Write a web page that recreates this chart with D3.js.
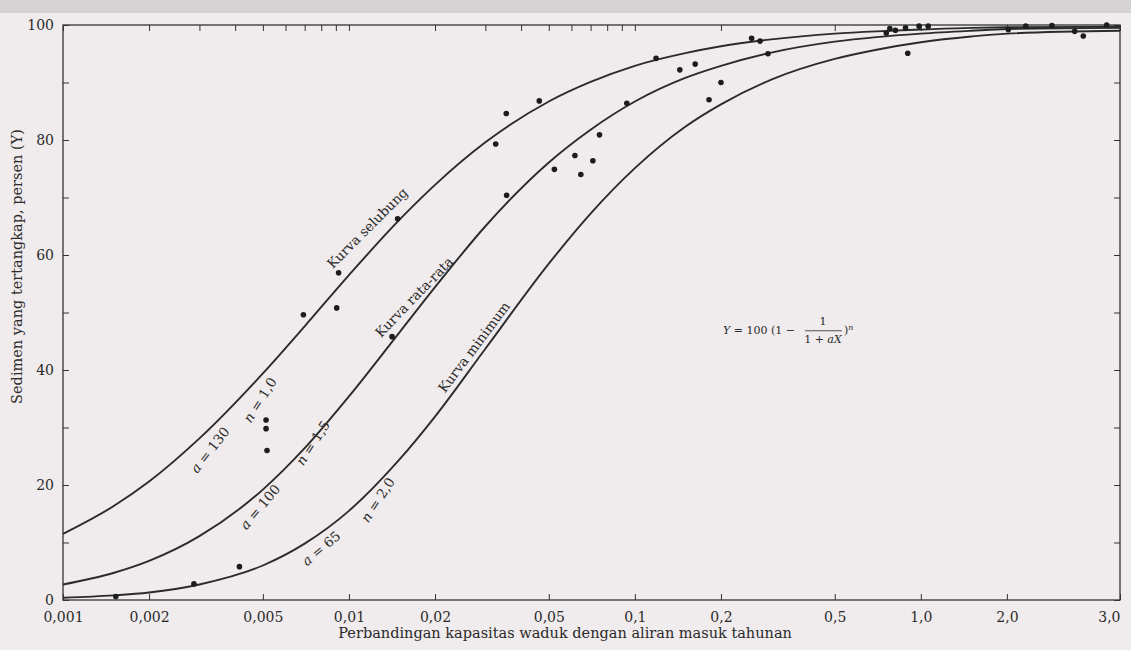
<!DOCTYPE html>
<html>
<head>
<meta charset="utf-8">
<script src="https://cdn.jsdelivr.net/npm/d3@7"></script>
<style>
  html, body { margin: 0; padding: 0; background: #f0ebec; }
  svg { display: block; }
  text { font-family: "DejaVu Serif", "Liberation Serif", serif; fill: #2a2a2a; }
</style>
</head>
<body>
<script>
// sumbu X (skala log) dan sumbu Y
const xTicks = [0.001, 0.002, 0.005, 0.01, 0.02, 0.05, 0.1, 0.2, 0.5, 1.0, 2.0, 3.0];
const xTickLabels = ["0,001", "0,002", "0,005", "0,01", "0,02", "0,05", "0,1", "0,2", "0,5", "1,0", "2,0", "3,0"];
const xMinorTicks = [0.003, 0.004, 0.006, 0.007, 0.008, 0.009, 0.03, 0.04, 0.06, 0.07, 0.08, 0.09];
const yTicks = [0, 10, 20, 30, 40, 50, 60, 70, 80, 90, 100];
const yTickLabels = ["0", "", "20", "", "40", "", "60", "", "80", "", "100"];

// titik-titik kurva yang dibaca dari gambar
const curveX = [0.001, 0.0015, 0.002, 0.003, 0.005, 0.007, 0.01, 0.015, 0.02, 0.03, 0.05, 0.07, 0.1, 0.15, 0.2, 0.3, 0.5, 0.7, 1.0, 1.5, 2.0, 3.0];
const kurvaSelubung = [11.5, 16.3, 20.6, 28.1, 39.4, 47.6, 56.5, 66.1, 72.2, 79.6, 86.7, 90.1, 92.9, 95.1, 96.3, 97.5, 98.5, 98.9, 99.2, 99.5, 99.6, 99.7];
const kurvaRataRata = [2.7, 4.7, 6.8, 11.1, 19.2, 26.4, 35.4, 46.5, 54.4, 65.0, 76.1, 81.8, 86.7, 90.8, 92.9, 95.2, 97.1, 97.9, 98.5, 99.0, 99.3, 99.5];
const kurvaMinimum = [0.4, 0.8, 1.3, 2.7, 6.0, 9.8, 15.5, 24.4, 31.9, 43.7, 58.5, 67.2, 75.1, 82.3, 86.2, 90.5, 94.1, 95.7, 97.0, 98.0, 98.5, 99.0];

// data pengamatan
const obsX = [0.00153, 0.00287, 0.00414, 0.00513, 0.00513, 0.00517, 0.00693, 0.00906, 0.0092, 0.01415, 0.0148,
    0.0326, 0.0355, 0.0356, 0.0463, 0.0523, 0.0617, 0.0647, 0.0713, 0.0752, 0.0937, 0.1186, 0.1436, 0.1625,
    0.1817, 0.200, 0.256, 0.274, 0.292, 0.757, 0.779, 0.815, 0.884, 0.900, 0.986, 1.061, 2.01, 2.14, 2.35, 2.55, 2.63, 2.86];
const obsY = [0.6, 2.8, 5.8, 31.3, 29.8, 26.0, 49.6, 50.8, 56.9, 45.8, 66.3,
    79.3, 84.6, 70.4, 86.8, 74.9, 77.3, 74.0, 76.4, 80.9, 86.4, 94.2, 92.2, 93.2,
    87.0, 90.0, 97.7, 97.2, 95.0, 98.6, 99.4, 99.1, 99.5, 95.1, 99.8, 99.8, 99.2, 99.8, 99.9, 98.9, 98.1, 100];

const curveLabels = [
    { text: "Kurva selubung", x: 0.0116, y: 64.7, angle: -45 },
    { text: "Kurva rata-rata", x: 0.0169, y: 52.7, angle: -46 },
    { text: "Kurva minimum", x: 0.0274, y: 44.0, angle: -53 }
];
const paramLabels = [
    { name: "n", value: "1,0", x: 0.00489, y: 34.8, angle: -58 },
    { name: "a", value: "130", x: 0.00327, y: 26.1, angle: -52 },
    { name: "n", value: "1,5", x: 0.00748, y: 27.3, angle: -57 },
    { name: "a", value: "100", x: 0.00489, y: 16.2, angle: -50 },
    { name: "n", value: "2,0", x: 0.01262, y: 17.4, angle: -57 },
    { name: "a", value: "65", x: 0.0080, y: 9.0, angle: -40 }
];

const width = 1131;
const height = 650;
const margin = { top: 25, right: 11, bottom: 50, left: 63 };

function draw() {
    const chartWidth = width - margin.left - margin.right;
    const chartHeight = height - margin.top - margin.bottom;

    const svg = d3.select('body').append('svg')
        .attr('width', width)
        .attr('height', height);

    svg.append('rect').attr('width', width).attr('height', 13).attr('fill', '#d5d3d4');

    const g = svg.append('g').attr('transform', `translate(${margin.left}, ${margin.top})`);

    // skala X: log, bagian terakhir (2,0 - 3,0) direntangkan seperti pada gambar
    const xScale = d3.scaleLog()
        .domain([0.001, 2.0, 3.0])
        .range([0, chartWidth * 0.893, chartWidth]);
    const yScale = d3.scaleLinear().domain([0, 100]).range([chartHeight, 0]);

    // sumbu
    const axisStyle = (sel) => {
        sel.select('.domain').remove();
        sel.selectAll('line').attr('stroke', '#333').attr('stroke-width', 1);
        sel.selectAll('text').style('font-size', '14px').attr('fill', '#2a2a2a');
    };
    g.append('g')
        .attr('transform', `translate(0, ${chartHeight})`)
        .call(d3.axisBottom(xScale).tickValues(xTicks).tickFormat((d, i) => xTickLabels[i]).tickSize(-6).tickPadding(12))
        .call(axisStyle)
        .call((sel) => sel.selectAll('.tick:last-of-type text').attr('text-anchor', 'end'));
    g.append('g')
        .call(d3.axisTop(xScale).tickValues(xTicks.concat(xMinorTicks)).tickFormat('').tickSize(-6))
        .call(axisStyle);
    g.append('g')
        .call(d3.axisLeft(yScale).tickValues(yTicks).tickFormat((d, i) => yTickLabels[i]).tickSize(-6).tickPadding(9))
        .call(axisStyle);
    g.append('g')
        .attr('transform', `translate(${chartWidth}, 0)`)
        .call(d3.axisRight(yScale).tickValues(yTicks).tickFormat('').tickSize(-6))
        .call(axisStyle);

    g.append('rect')
        .attr('width', chartWidth)
        .attr('height', chartHeight)
        .attr('fill', 'none')
        .attr('stroke', '#333')
        .attr('stroke-width', 1.3);

    // kurva
    const line = d3.line()
        .x((d) => xScale(d[0]))
        .y((d) => yScale(d[1]))
        .curve(d3.curveMonotoneX);
    [kurvaSelubung, kurvaRataRata, kurvaMinimum].forEach((ys) => {
        g.append('path')
            .datum(curveX.map((x, i) => [x, ys[i]]))
            .attr('fill', 'none')
            .attr('stroke', '#2b2b2b')
            .attr('stroke-width', 1.9)
            .attr('d', line);
    });

    // titik pengamatan
    g.selectAll('circle.obs')
        .data(obsX.map((x, i) => [x, obsY[i]]))
        .enter()
        .append('circle')
        .attr('class', 'obs')
        .attr('cx', (d) => xScale(d[0]))
        .attr('cy', (d) => yScale(d[1]))
        .attr('r', 2.8)
        .attr('fill', '#1c1c1c');

    // label kurva
    curveLabels.forEach((l) => {
        g.append('text')
            .attr('transform', `translate(${xScale(l.x)}, ${yScale(l.y)}) rotate(${l.angle})`)
            .attr('text-anchor', 'middle')
            .attr('dy', '0.35em')
            .style('font-size', '13.5px')
            .text(l.text);
    });
    paramLabels.forEach((l) => {
        const t = g.append('text')
            .attr('transform', `translate(${xScale(l.x)}, ${yScale(l.y)}) rotate(${l.angle})`)
            .attr('text-anchor', 'middle')
            .attr('dy', '0.35em')
            .style('font-size', '13.5px');
        t.append('tspan').style('font-style', 'italic').text(l.name);
        t.append('tspan').text(' = ' + l.value);
    });

    // rumus
    const fx = xScale(0.2) + 2;
    const fy = yScale(47);
    const f = g.append('g').attr('transform', `translate(${fx}, ${fy})`).style('font-size', '11px');
    const t1 = f.append('text').attr('dy', '0.35em');
    t1.append('tspan').style('font-style', 'italic').text('Y');
    t1.append('tspan').text(' = 100 (1 \u2212');
    f.append('text').attr('x', 100).attr('y', -5).attr('text-anchor', 'middle').text('1');
    const t2 = f.append('text').attr('x', 100).attr('y', 13).attr('text-anchor', 'middle');
    t2.append('tspan').text('1 + ');
    t2.append('tspan').style('font-style', 'italic').text('aX');
    f.append('line').attr('x1', 82).attr('x2', 119).attr('y1', 1).attr('y2', 1)
        .attr('stroke', '#2a2a2a').attr('stroke-width', 0.8);
    const t3 = f.append('text').attr('x', 121).attr('dy', '0.35em');
    t3.append('tspan').text(')');
    t3.append('tspan').attr('dy', '-0.5em').style('font-size', '8px').style('font-style', 'italic').text('n');

    // judul sumbu
    svg.append('text')
        .attr('transform', `translate(22, ${margin.top + yScale(58)}) rotate(-90)`)
        .attr('text-anchor', 'middle')
        .style('font-size', '14.5px')
        .text('Sedimen yang tertangkap, persen (Y)');
    svg.append('text')
        .attr('x', margin.left + xScale(0.057))
        .attr('y', 638)
        .attr('text-anchor', 'middle')
        .style('font-size', '14.5px')
        .text('Perbandingan kapasitas waduk dengan aliran masuk tahunan');
}

window.addEventListener('load', () => { draw(); }, false);
</script>
</body>
</html>
